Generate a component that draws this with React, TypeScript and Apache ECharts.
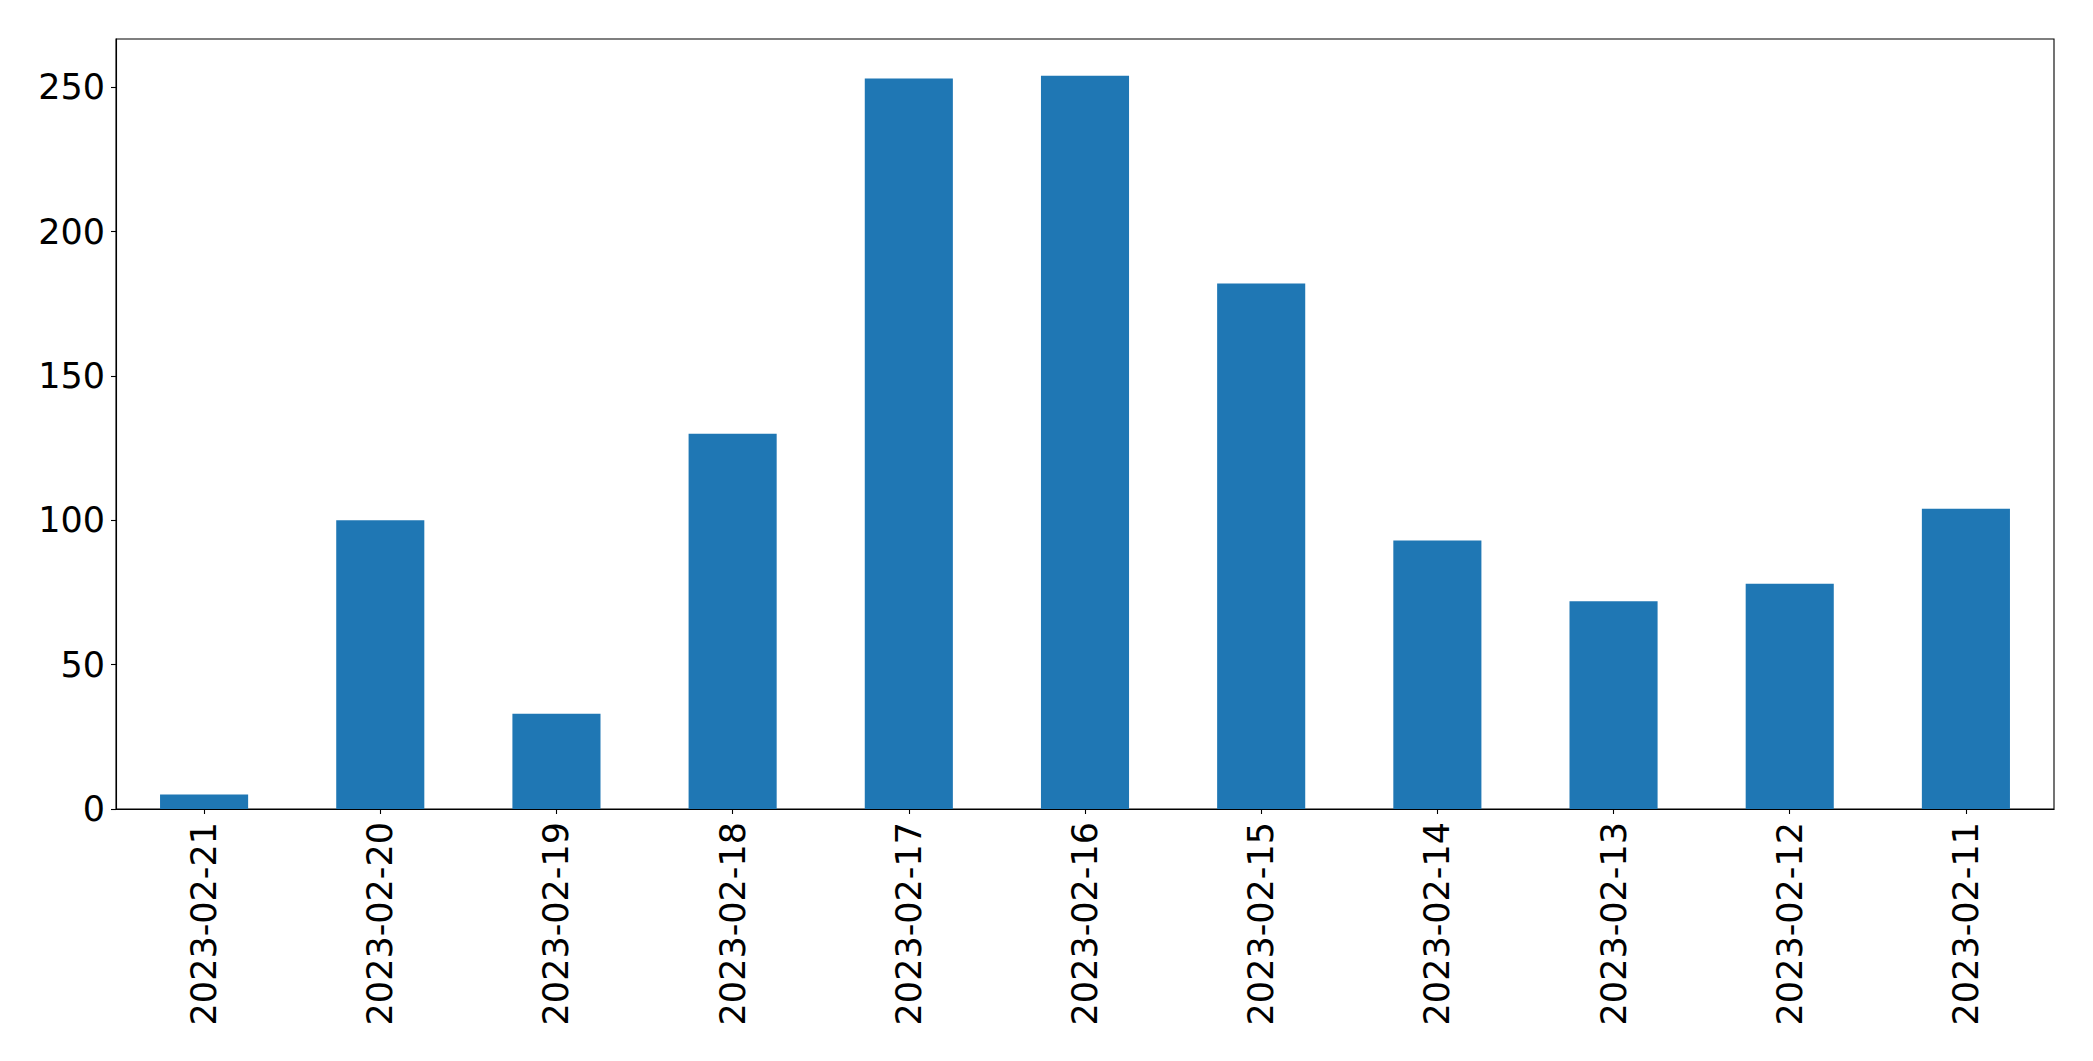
import React, { useEffect, useRef } from "react";
import * as echarts from "echarts";

const categories = [
  "2023-02-21",
  "2023-02-20",
  "2023-02-19",
  "2023-02-18",
  "2023-02-17",
  "2023-02-16",
  "2023-02-15",
  "2023-02-14",
  "2023-02-13",
  "2023-02-12",
  "2023-02-11",
];
const counts = [5, 100, 33, 130, 253, 254, 182, 93, 72, 78, 104];
const yTicks = [0, 50, 100, 150, 200, 250];

export default function App() {
  const ref = useRef<HTMLDivElement>(null);
  useEffect(() => {
    if (!ref.current) return;
    const chart = echarts.init(ref.current, undefined, { renderer: "svg" });
    const yMax = Math.max(...counts) * 1.05;
    const font = "DejaVu Sans";
    chart.setOption({
      animation: false,
      backgroundColor: "#ffffff",
      grid: {
        left: 116,
        top: 39,
        right: 39,
        bottom: 252,
        show: true,
        borderColor: "#000000",
        borderWidth: 1.1,
        backgroundColor: "transparent",
        containLabel: false,
      },
      xAxis: {
        type: "category",
        data: categories,
        boundaryGap: true,
        axisLine: { show: true, lineStyle: { color: "#000000", width: 1.1 } },
        axisTick: {
          show: true,
          alignWithLabel: true,
          length: 5,
          lineStyle: { color: "#000000", width: 1.1 },
        },
        axisLabel: {
          rotate: 90,
          interval: 0,
          margin: 13,
          fontFamily: font,
          fontSize: 35,
          color: "#000000",
        },
        splitLine: { show: false },
      },
      yAxis: {
        type: "value",
        min: 0,
        max: yMax,
        axisLine: { show: true, lineStyle: { color: "#000000", width: 1.1 } },
        axisTick: {
          show: true,
          length: 5,
          customValues: yTicks,
          lineStyle: { color: "#000000", width: 1.1 },
        },
        axisLabel: {
          customValues: yTicks,
          margin: 11,
          fontFamily: font,
          fontSize: 35,
          color: "#000000",
        },
        splitLine: { show: false },
      },
      series: [
        {
          type: "bar",
          data: counts,
          barWidth: "50%",
          itemStyle: { color: "#1f77b4" },
        },
      ],
    });
    return () => chart.dispose();
  }, []);
  return (
    <div
      ref={ref}
      style={{ position: "fixed", left: 0, top: 0, width: 2093, height: 1061, background: "#fff" }}
    />
  );
}
